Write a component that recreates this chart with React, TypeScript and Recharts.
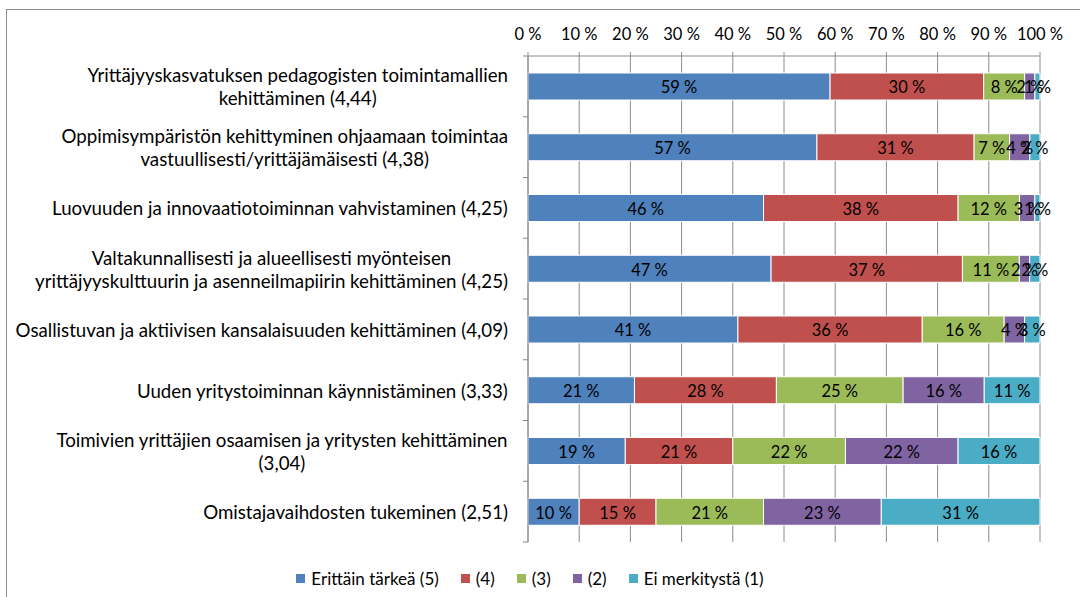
import { Bar, BarChart, CartesianGrid, LabelList, Legend, XAxis, YAxis } from "recharts";

const categories = [
  "Yrittäjyyskasvatuksen pedagogisten toimintamallien\nkehittäminen (4,44)",
  "Oppimisympäristön kehittyminen ohjaamaan toimintaa\nvastuullisesti/yrittäjämäisesti (4,38)",
  "Luovuuden ja innovaatiotoiminnan vahvistaminen (4,25)",
  "Valtakunnallisesti ja alueellisesti myönteisen\nyrittäjyyskulttuurin ja asenneilmapiirin kehittäminen (4,25)",
  "Osallistuvan ja aktiivisen kansalaisuuden kehittäminen (4,09)",
  "Uuden yritystoiminnan käynnistäminen (3,33)",
  "Toimivien yrittäjien osaamisen ja yritysten kehittäminen\n(3,04)",
  "Omistajavaihdosten tukeminen (2,51)"
];

const erittainTarkea = [59, 57, 46, 47, 41, 21, 19, 10];
const neljä = [30, 31, 38, 37, 36, 28, 21, 15];
const kolme = [8, 7, 12, 11, 16, 25, 22, 21];
const kaksi = [2, 4, 3, 2, 4, 16, 22, 23];
const eiMerkitysta = [1, 2, 1, 2, 3, 11, 16, 31];

const xTicks = [0, 0.1, 0.2, 0.3, 0.4, 0.5, 0.6, 0.7, 0.8, 0.9, 1];

const series = [
  { key: "v5", name: "Erittäin tärkeä (5)", color: "#4F81BD" },
  { key: "v4", name: "(4)", color: "#C0504D" },
  { key: "v3", name: "(3)", color: "#9BBB59" },
  { key: "v2", name: "(2)", color: "#8064A2" },
  { key: "v1", name: "Ei merkitystä (1)", color: "#4BACC6" }
];

const data = categories.map((name, i) => ({
  name,
  v5: erittainTarkea[i],
  v4: neljä[i],
  v3: kolme[i],
  v2: kaksi[i],
  v1: eiMerkitysta[i]
}));

const FONT = "Lato, 'Noto Sans', sans-serif";
const CAT_FONT_SIZE = 18.7;
const SMALL_FONT_SIZE = 16.5;
const PLOT_H = 486;

let ctx: CanvasRenderingContext2D | null = null;
function textWidth(text: string) {
  if (!ctx) ctx = document.createElement("canvas").getContext("2d");
  if (!ctx) return text.length * 8;
  ctx.font = `${CAT_FONT_SIZE}px Lato`;
  return ctx.measureText(text).width;
}

function CategoryTick(props: any) {
  const { x, y, payload, index } = props;
  const lines = String(payload.value).split("\n");
  const maxW = Math.max(...lines.map(textWidth));
  const cx = x - maxW / 2;
  const lh = 23;
  const start = y + 1 - ((lines.length - 1) * lh) / 2;
  const half = PLOT_H / categories.length / 2;
  const axisX = x + 20;
  return (
    <g>
      {lines.map((line, i) => (
        <text
          key={i}
          x={cx}
          y={start + i * lh}
          dy="0.35em"
          textAnchor="middle"
          fontSize={CAT_FONT_SIZE}
          fontFamily={FONT}
          fill="#000"
        >
          {line}
        </text>
      ))}
      <line x1={axisX - 5} x2={axisX} y1={y + half} y2={y + half} stroke="#888" />
      {index === 0 && <line x1={axisX - 5} x2={axisX} y1={y - half} y2={y - half} stroke="#888" />}
    </g>
  );
}

function SegmentLabel(props: any) {
  const { x, y, width, height, value } = props;
  return (
    <text
      x={x + width / 2}
      y={y + height / 2 + 1}
      dy="0.35em"
      textAnchor="middle"
      fontSize={SMALL_FONT_SIZE}
      fontFamily={FONT}
      fill="#000"
    >
      {`${value} %`}
    </text>
  );
}

function LegendContent() {
  return (
    <div
      style={{
        height: 55,
        boxSizing: "border-box",
        paddingTop: 18,
        paddingLeft: 20,
        display: "flex",
        justifyContent: "center",
        fontFamily: FONT,
        fontSize: 17,
        lineHeight: "20px",
        color: "#000"
      }}
    >
      {series.map((s) => (
        <div key={s.key} style={{ display: "flex", alignItems: "center", margin: "0 11px" }}>
          <span style={{ width: 9, height: 9, background: s.color, marginRight: 6, display: "inline-block" }} />
          <span>{s.name}</span>
        </div>
      ))}
    </div>
  );
}

export default function App() {
  return (
    <div style={{ position: "absolute", left: 0, top: 0, width: 1080, height: 597, background: "#fff", overflow: "hidden" }}>
      <div
        style={{
          position: "absolute",
          left: 6,
          top: 9,
          width: 1100,
          height: 620,
          borderLeft: "1.5px solid #8c8c8c",
          borderTop: "1.5px solid #8c8c8c"
        }}
      />
      <div style={{ position: "absolute", left: 0, top: 0 }}>
        <BarChart
          width={1080}
          height={597}
          data={data}
          layout="vertical"
          stackOffset="expand"
          barSize={27}
          margin={{ top: 10, right: 40, bottom: 0, left: 0 }}
        >
          <CartesianGrid horizontal={false} stroke="#8c8c8c" />
          <XAxis
            type="number"
            orientation="top"
            domain={[0, 1]}
            ticks={xTicks}
            height={46}
            tickSize={4}
            tickMargin={12}
            axisLine={{ stroke: "#8c8c8c" }}
            tickLine={{ stroke: "#8c8c8c" }}
            tick={{ fill: "#000", fontSize: SMALL_FONT_SIZE, fontFamily: FONT }}
            tickFormatter={(v) => `${Math.round(v * 100)} %`}
          />
          <YAxis
            type="category"
            dataKey="name"
            width={528}
            tickSize={0}
            tickMargin={20}
            tickLine={false}
            axisLine={{ stroke: "#8c8c8c" }}
            tick={<CategoryTick />}
            interval={0}
          />
          <Legend verticalAlign="bottom" content={<LegendContent />} />
          {series.map((s) => (
            <Bar
              key={s.key}
              dataKey={s.key}
              name={s.name}
              stackId="a"
              fill={s.color}
              stroke="#fff"
              strokeWidth={1}
              isAnimationActive={false}
            >
              <LabelList dataKey={s.key} content={<SegmentLabel />} />
            </Bar>
          ))}
        </BarChart>
      </div>
    </div>
  );
}
